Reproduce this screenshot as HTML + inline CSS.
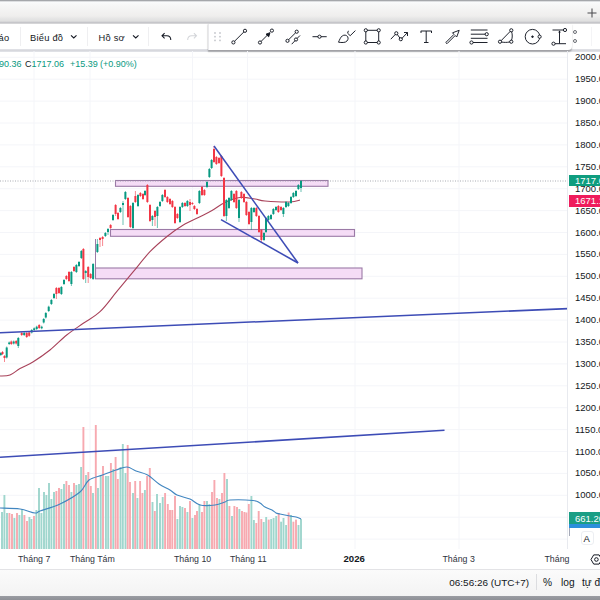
<!DOCTYPE html>
<html><head><meta charset="utf-8">
<style>
*{box-sizing:border-box}
html,body{margin:0;padding:0;width:600px;height:600px;overflow:hidden;background:#fff;font-family:"Liberation Sans",sans-serif;color:#131722}
.abs{position:absolute}
#top{left:0;top:0;width:600px;height:24px;background:linear-gradient(#8a8c90 0px,#c0c2c6 1px,#fafbfc 2px,#f7f7f7 5px,#efeeed 16px,#e4e4e4 19px,#e0e0e0 21px,#c6c6ca 22.5px,#dcdcde 24px)}
#plus{left:586px;top:6.5px;width:12px;height:12px}
#tb{left:0;top:24px;width:600px;height:28px;background:linear-gradient(#fff 0,#fff 25.5px,#dfe0e5 25.5px,#d3d4da 27px,#eceef2 28px)}
.tt{font-size:9.3px;top:32.6px;color:#131722;white-space:nowrap;letter-spacing:0.25px}
.sep{width:1px;background:#efeff1}
#ftb{left:208px;top:24px;width:364px;height:25.5px;background:#fff;border-radius:0 0 4px 0;border-left:1px solid #e9e9ec;box-shadow:0 1.5px 1.5px rgba(0,0,0,0.25), -1px 0 1px rgba(0,0,0,0.06)}
#chart{left:0;top:51px;width:568px;height:498px}
#axis{left:567px;top:51px;width:1px;height:518px;background:#e8eaef}
.pl{position:absolute;left:575px;font-size:9.5px;color:#131722;white-space:nowrap;line-height:12px}
.lg{top:59.3px;font-size:9px;white-space:nowrap;color:#089981}
#taxis{left:0;top:549px;width:600px;height:20px;background:#fff;border-top:0}
.tl{position:absolute;top:553px;font-size:8.8px;color:#2f333c;white-space:nowrap;line-height:12px}
#bb{left:0;top:569px;width:600px;height:27px;background:linear-gradient(#fbfbfb,#f3f3f3);border-top:1px solid #e3e3e6}
#bdark{left:0;top:595.8px;width:600px;height:5px;background:linear-gradient(#9a9ca2,#8b8d93)}
.bt{position:absolute;top:576px;font-size:10.2px;color:#131722;white-space:nowrap;line-height:14px}
</style></head><body>
<div id="top" class="abs"></div>
<svg class="abs" id="plus" viewBox="0 0 12 12"><path d="M6 1.5V10.5M1.5 6H10.5" stroke="#4a4a4f" stroke-width="1.05"/></svg>
<div id="tb" class="abs"></div>
<div class="abs tt" style="left:-1.5px">áo</div>
<div class="abs sep" style="left:20px;top:27px;height:19px"></div>
<div class="abs tt" style="left:30px">Biểu đồ</div>
<svg class="abs" style="left:68.5px;top:33px" width="9" height="7" viewBox="0 0 9 7"><path d="M2 2.4L4.75 5L7.5 2.4" fill="none" stroke="#131722" stroke-width="1.1"/></svg>
<div class="abs sep" style="left:87px;top:27px;height:19px"></div>
<div class="abs tt" style="left:98.5px">Hồ sơ</div>
<svg class="abs" style="left:130.5px;top:33px" width="9" height="7" viewBox="0 0 9 7"><path d="M2 2.4L4.75 5L7.5 2.4" fill="none" stroke="#131722" stroke-width="1.1"/></svg>
<div class="abs sep" style="left:148px;top:27px;height:19px"></div>
<svg class="abs" style="left:160px;top:30px" width="14" height="12" viewBox="0 0 14 12"><path d="M2.2 5.8H6.8C9.2 5.8 10.8 7.5 10.8 10M4.6 3.2L2 5.8L4.6 8.4" fill="none" stroke="#131722" stroke-width="1.05"/></svg>
<svg class="abs" style="left:184px;top:30px" width="14" height="12" viewBox="0 0 14 12"><path d="M12.3 5.8H7.7C5.3 5.8 3.7 7.5 3.7 10M9.9 3.2L12.5 5.8L9.9 8.4" fill="none" stroke="#d3d5d9" stroke-width="1.05"/></svg>
<div id="ftb" class="abs"></div>
<svg class="abs" style="left:208px;top:24px" width="364" height="26" viewBox="208 24 364 26" fill="none" stroke="#131722" stroke-width="0.95">
 <g fill="#c5c7cc" stroke="none"><circle cx="215" cy="33" r="0.9"/><circle cx="220" cy="33" r="0.9"/><circle cx="215" cy="36.7" r="0.9"/><circle cx="220" cy="36.7" r="0.9"/><circle cx="215" cy="40.4" r="0.9"/><circle cx="220" cy="40.4" r="0.9"/></g>
 <!-- line -->
 <path d="M234.4 41.4L244 31.8"/><circle cx="233.4" cy="42.4" r="1.6"/><circle cx="245" cy="30.8" r="1.6"/>
 <!-- arrow -->
 <path d="M261 41.5L268 34.5"/><circle cx="260" cy="42.5" r="1.6"/><circle cx="271.9" cy="30.6" r="1.6"/><path d="M266 34.2L270 32.7L268.7 36.8Z" fill="#131722"/>
 <!-- parallel -->
 <path d="M288.5 39.8L295.7 32.7"/><circle cx="287.5" cy="40.8" r="1.6"/><circle cx="296.7" cy="31.7" r="1.6"/><path d="M291.7 44.2L295.1 40.6M297 38.5L300 35.5"/><circle cx="296" cy="39.5" r="1.6"/>
 <!-- horiz -->
 <path d="M312.5 36.7H318M321 36.7H326.7"/><circle cx="319.5" cy="36.7" r="1.6"/>
 <!-- brush -->
 <path d="M338.5 42.2C339.5 40 340.5 37.2 342.3 35.9C344 34.7 346.5 34.8 347.7 36.8C348.7 38.5 347.8 41 345.5 42C343.5 42.8 340.5 42.5 338.5 42.2Z"/><path d="M348.4 30.8L347.6 33.2L350.2 35.7L355.4 30.6"/>
 <!-- rect -->
 <path d="M367.2 30.3H377.3M378.7 31.7V41.1M377.3 42.5H367.2M365.8 41.1V31.7"/><circle cx="365.8" cy="30.3" r="1.6"/><circle cx="378.7" cy="30.3" r="1.6"/><circle cx="365.8" cy="42.5" r="1.6"/><circle cx="378.7" cy="42.5" r="1.6"/>
 <!-- path -->
 <path d="M390.8 39.2L395.4 34.3M397.2 34.3L400 38.2M401.8 38.5L407.5 32.5M404 32.5H407.5V36"/><circle cx="396.3" cy="33.3" r="1.6"/><circle cx="400.8" cy="39.2" r="1.6"/>
 <!-- T -->
 <path d="M420.8 31H431.7M421 31V33M431.5 31V33M426.2 31V42.5M424 42.5H428.5"/>
 <!-- arrow outline -->
 <path d="M445.8 42.5L454 34.3L452.5 32.8L459.2 30.3L456.7 37L455.2 35.5L447 43.7Z"/>
 <!-- fib -->
 <path d="M470.8 30H487.5M470.8 34.2H485.2M470.8 38.3H487.5M473 42.5H487.5"/><circle cx="486.7" cy="34.2" r="1.6"/><circle cx="471.5" cy="42.5" r="1.6"/>
 <!-- pattern -->
 <path d="M501 40.8L510.4 31.2M511.6 31.7C512.5 34.5 512.5 37.5 511.5 40.3M510 41.9C507 42.6 503.5 42.5 501.4 42"/><circle cx="500" cy="41.7" r="1.6"/><circle cx="511.3" cy="30.3" r="1.6"/><circle cx="511.3" cy="41.7" r="1.6"/>
 <!-- circle -->
 <circle cx="532.5" cy="36.7" r="7.3"/><circle cx="532.5" cy="36.7" r="0.8" fill="#131722"/><circle cx="539.6" cy="36.7" r="1.6" fill="#fff"/>
 <!-- ruler -->
 <path d="M552.5 30H563.7M559.5 31V43.5M555 43.7H566"/><circle cx="565" cy="30" r="1.6"/><circle cx="553.5" cy="43.7" r="1.6"/><path d="M558.2 32.5L559.5 30.5L560.8 32.5Z" fill="#131722" stroke="none"/>
</svg>
<svg class="abs" style="left:572px;top:24px" width="10" height="26" viewBox="572 24 10 26" fill="none" stroke="#3a3d45" stroke-width="0.75"><circle cx="575" cy="32" r="1.5"/><circle cx="575" cy="41" r="1.5"/></svg>
<div class="abs sep" style="left:591px;top:27px;height:19px;background:#f4f4f6"></div>

<svg id="chart" class="abs" width="568" height="498" viewBox="0 51 568 498">
<line x1="0" y1="57.3" x2="568" y2="57.3" stroke="#f4f5f9" stroke-width="1"/>
<line x1="0" y1="79.2" x2="568" y2="79.2" stroke="#f4f5f9" stroke-width="1"/>
<line x1="0" y1="101.1" x2="568" y2="101.1" stroke="#f4f5f9" stroke-width="1"/>
<line x1="0" y1="123.0" x2="568" y2="123.0" stroke="#f4f5f9" stroke-width="1"/>
<line x1="0" y1="144.9" x2="568" y2="144.9" stroke="#f4f5f9" stroke-width="1"/>
<line x1="0" y1="166.8" x2="568" y2="166.8" stroke="#f4f5f9" stroke-width="1"/>
<line x1="0" y1="188.7" x2="568" y2="188.7" stroke="#f4f5f9" stroke-width="1"/>
<line x1="0" y1="210.6" x2="568" y2="210.6" stroke="#f4f5f9" stroke-width="1"/>
<line x1="0" y1="232.5" x2="568" y2="232.5" stroke="#f4f5f9" stroke-width="1"/>
<line x1="0" y1="254.4" x2="568" y2="254.4" stroke="#f4f5f9" stroke-width="1"/>
<line x1="0" y1="276.3" x2="568" y2="276.3" stroke="#f4f5f9" stroke-width="1"/>
<line x1="0" y1="298.2" x2="568" y2="298.2" stroke="#f4f5f9" stroke-width="1"/>
<line x1="0" y1="320.1" x2="568" y2="320.1" stroke="#f4f5f9" stroke-width="1"/>
<line x1="0" y1="342.0" x2="568" y2="342.0" stroke="#f4f5f9" stroke-width="1"/>
<line x1="0" y1="363.9" x2="568" y2="363.9" stroke="#f4f5f9" stroke-width="1"/>
<line x1="0" y1="385.8" x2="568" y2="385.8" stroke="#f4f5f9" stroke-width="1"/>
<line x1="0" y1="407.7" x2="568" y2="407.7" stroke="#f4f5f9" stroke-width="1"/>
<line x1="0" y1="429.6" x2="568" y2="429.6" stroke="#f4f5f9" stroke-width="1"/>
<line x1="0" y1="451.5" x2="568" y2="451.5" stroke="#f4f5f9" stroke-width="1"/>
<line x1="0" y1="473.4" x2="568" y2="473.4" stroke="#f4f5f9" stroke-width="1"/>
<line x1="0" y1="495.3" x2="568" y2="495.3" stroke="#f4f5f9" stroke-width="1"/>
<line x1="0" y1="517.2" x2="568" y2="517.2" stroke="#f4f5f9" stroke-width="1"/>
<line x1="0" y1="539.1" x2="568" y2="539.1" stroke="#f4f5f9" stroke-width="1"/>
<line x1="34" y1="51" x2="34" y2="549" stroke="#f4f5f9" stroke-width="1"/>
<line x1="90" y1="51" x2="90" y2="549" stroke="#f4f5f9" stroke-width="1"/>
<line x1="192.5" y1="51" x2="192.5" y2="549" stroke="#f4f5f9" stroke-width="1"/>
<line x1="247.5" y1="51" x2="247.5" y2="549" stroke="#f4f5f9" stroke-width="1"/>
<line x1="355" y1="51" x2="355" y2="549" stroke="#f4f5f9" stroke-width="1"/>
<line x1="459" y1="51" x2="459" y2="549" stroke="#f4f5f9" stroke-width="1"/>
<rect x="1.05" y="512" width="1.9" height="37" fill="#9fd6cd"/>
<rect x="3.45" y="495" width="1.9" height="54" fill="#9fd6cd"/>
<rect x="6.05" y="513" width="1.9" height="36" fill="#9fd6cd"/>
<rect x="8.45" y="513" width="1.9" height="36" fill="#f7a9b0"/>
<rect x="11.05" y="514" width="1.9" height="35" fill="#f7a9b0"/>
<rect x="13.45" y="518" width="1.9" height="31" fill="#9fd6cd"/>
<rect x="16.05" y="513" width="1.9" height="36" fill="#f7a9b0"/>
<rect x="18.45" y="515" width="1.9" height="34" fill="#9fd6cd"/>
<rect x="21.05" y="509" width="1.9" height="40" fill="#9fd6cd"/>
<rect x="23.45" y="515" width="1.9" height="34" fill="#f7a9b0"/>
<rect x="26.05" y="521" width="1.9" height="28" fill="#f7a9b0"/>
<rect x="28.45" y="517" width="1.9" height="32" fill="#9fd6cd"/>
<rect x="30.45" y="519" width="1.9" height="30" fill="#9fd6cd"/>
<rect x="33.05" y="516" width="1.9" height="33" fill="#f7a9b0"/>
<rect x="35.45" y="510" width="1.9" height="39" fill="#9fd6cd"/>
<rect x="38.05" y="488" width="1.9" height="61" fill="#9fd6cd"/>
<rect x="40.45" y="513" width="1.9" height="36" fill="#9fd6cd"/>
<rect x="43.05" y="492" width="1.9" height="57" fill="#9fd6cd"/>
<rect x="45.45" y="495" width="1.9" height="54" fill="#9fd6cd"/>
<rect x="48.05" y="483" width="1.9" height="66" fill="#9fd6cd"/>
<rect x="50.45" y="499" width="1.9" height="50" fill="#9fd6cd"/>
<rect x="53.05" y="492" width="1.9" height="57" fill="#9fd6cd"/>
<rect x="55.45" y="491" width="1.9" height="58" fill="#f7a9b0"/>
<rect x="58.05" y="488" width="1.9" height="61" fill="#f7a9b0"/>
<rect x="60.45" y="489" width="1.9" height="60" fill="#9fd6cd"/>
<rect x="63.05" y="484" width="1.9" height="65" fill="#9fd6cd"/>
<rect x="65.45" y="481" width="1.9" height="68" fill="#f7a9b0"/>
<rect x="68.05" y="485" width="1.9" height="64" fill="#f7a9b0"/>
<rect x="70.45" y="492" width="1.9" height="57" fill="#9fd6cd"/>
<rect x="73.05" y="483" width="1.9" height="66" fill="#f7a9b0"/>
<rect x="75.45" y="485" width="1.9" height="64" fill="#9fd6cd"/>
<rect x="78.05" y="484" width="1.9" height="65" fill="#9fd6cd"/>
<rect x="80.15" y="467" width="1.9" height="82" fill="#9fd6cd"/>
<rect x="82.45" y="427" width="1.9" height="122" fill="#f7a9b0"/>
<rect x="85.05" y="475" width="1.9" height="74" fill="#9fd6cd"/>
<rect x="87.35" y="472" width="1.9" height="77" fill="#f7a9b0"/>
<rect x="89.85" y="486" width="1.9" height="63" fill="#f7a9b0"/>
<rect x="92.05" y="493" width="1.9" height="56" fill="#9fd6cd"/>
<rect x="94.85" y="425" width="1.9" height="124" fill="#f7a9b0"/>
<rect x="97.05" y="488" width="1.9" height="61" fill="#9fd6cd"/>
<rect x="99.75" y="475" width="1.9" height="74" fill="#9fd6cd"/>
<rect x="102.05" y="466" width="1.9" height="83" fill="#f7a9b0"/>
<rect x="104.95" y="476" width="1.9" height="73" fill="#9fd6cd"/>
<rect x="107.25" y="476" width="1.9" height="73" fill="#9fd6cd"/>
<rect x="109.95" y="463" width="1.9" height="86" fill="#f7a9b0"/>
<rect x="112.35" y="469" width="1.9" height="80" fill="#9fd6cd"/>
<rect x="114.65" y="457" width="1.9" height="92" fill="#f7a9b0"/>
<rect x="116.85" y="479" width="1.9" height="70" fill="#f7a9b0"/>
<rect x="119.55" y="467" width="1.9" height="82" fill="#9fd6cd"/>
<rect x="121.85" y="444" width="1.9" height="105" fill="#9fd6cd"/>
<rect x="124.55" y="473" width="1.9" height="76" fill="#9fd6cd"/>
<rect x="126.75" y="445" width="1.9" height="104" fill="#f7a9b0"/>
<rect x="129.05" y="482" width="1.9" height="67" fill="#f7a9b0"/>
<rect x="132.05" y="493" width="1.9" height="56" fill="#9fd6cd"/>
<rect x="134.25" y="481" width="1.9" height="68" fill="#f7a9b0"/>
<rect x="136.45" y="498" width="1.9" height="51" fill="#9fd6cd"/>
<rect x="139.15" y="481" width="1.9" height="68" fill="#f7a9b0"/>
<rect x="141.45" y="493" width="1.9" height="56" fill="#f7a9b0"/>
<rect x="143.95" y="490" width="1.9" height="59" fill="#9fd6cd"/>
<rect x="146.15" y="476" width="1.9" height="73" fill="#f7a9b0"/>
<rect x="148.85" y="468" width="1.9" height="81" fill="#f7a9b0"/>
<rect x="151.55" y="502" width="1.9" height="47" fill="#9fd6cd"/>
<rect x="153.85" y="511" width="1.9" height="38" fill="#f7a9b0"/>
<rect x="156.05" y="494" width="1.9" height="55" fill="#9fd6cd"/>
<rect x="159.05" y="503" width="1.9" height="46" fill="#9fd6cd"/>
<rect x="161.75" y="497" width="1.9" height="52" fill="#9fd6cd"/>
<rect x="164.15" y="493" width="1.9" height="56" fill="#f7a9b0"/>
<rect x="166.85" y="504" width="1.9" height="45" fill="#f7a9b0"/>
<rect x="169.05" y="510" width="1.9" height="39" fill="#f7a9b0"/>
<rect x="171.35" y="510" width="1.9" height="39" fill="#f7a9b0"/>
<rect x="174.05" y="496" width="1.9" height="53" fill="#f7a9b0"/>
<rect x="176.45" y="519" width="1.9" height="30" fill="#9fd6cd"/>
<rect x="179.05" y="506" width="1.9" height="43" fill="#9fd6cd"/>
<rect x="181.45" y="507" width="1.9" height="42" fill="#9fd6cd"/>
<rect x="184.05" y="508" width="1.9" height="41" fill="#f7a9b0"/>
<rect x="186.45" y="512" width="1.9" height="37" fill="#9fd6cd"/>
<rect x="189.05" y="501" width="1.9" height="48" fill="#f7a9b0"/>
<rect x="191.45" y="518" width="1.9" height="31" fill="#9fd6cd"/>
<rect x="194.05" y="515" width="1.9" height="34" fill="#f7a9b0"/>
<rect x="196.05" y="511" width="1.9" height="38" fill="#f7a9b0"/>
<rect x="198.45" y="504" width="1.9" height="45" fill="#9fd6cd"/>
<rect x="201.05" y="512" width="1.9" height="37" fill="#f7a9b0"/>
<rect x="203.45" y="501" width="1.9" height="48" fill="#f7a9b0"/>
<rect x="206.05" y="501" width="1.9" height="48" fill="#9fd6cd"/>
<rect x="208.45" y="504" width="1.9" height="45" fill="#9fd6cd"/>
<rect x="211.05" y="492" width="1.9" height="57" fill="#f7a9b0"/>
<rect x="213.45" y="480" width="1.9" height="69" fill="#f7a9b0"/>
<rect x="216.05" y="498" width="1.9" height="51" fill="#f7a9b0"/>
<rect x="218.45" y="499" width="1.9" height="50" fill="#9fd6cd"/>
<rect x="221.05" y="493" width="1.9" height="56" fill="#f7a9b0"/>
<rect x="223.45" y="473" width="1.9" height="76" fill="#f7a9b0"/>
<rect x="226.05" y="479" width="1.9" height="70" fill="#9fd6cd"/>
<rect x="228.45" y="506" width="1.9" height="43" fill="#f7a9b0"/>
<rect x="231.05" y="516" width="1.9" height="33" fill="#9fd6cd"/>
<rect x="233.45" y="506" width="1.9" height="43" fill="#f7a9b0"/>
<rect x="236.05" y="507" width="1.9" height="42" fill="#f7a9b0"/>
<rect x="238.45" y="509" width="1.9" height="40" fill="#9fd6cd"/>
<rect x="241.05" y="511" width="1.9" height="38" fill="#f7a9b0"/>
<rect x="243.45" y="512" width="1.9" height="37" fill="#f7a9b0"/>
<rect x="245.45" y="512.5" width="1.9" height="36.5" fill="#f7a9b0"/>
<rect x="247.85" y="504" width="1.9" height="45" fill="#f7a9b0"/>
<rect x="250.45" y="496" width="1.9" height="53" fill="#9fd6cd"/>
<rect x="252.95" y="520" width="1.9" height="29" fill="#9fd6cd"/>
<rect x="255.35" y="523" width="1.9" height="26" fill="#f7a9b0"/>
<rect x="257.75" y="511" width="1.9" height="38" fill="#f7a9b0"/>
<rect x="260.35" y="519" width="1.9" height="30" fill="#f7a9b0"/>
<rect x="262.75" y="522" width="1.9" height="27" fill="#9fd6cd"/>
<rect x="265.25" y="517" width="1.9" height="32" fill="#9fd6cd"/>
<rect x="267.75" y="519.6" width="1.9" height="29.399999999999977" fill="#f7a9b0"/>
<rect x="270.25" y="519" width="1.9" height="30" fill="#9fd6cd"/>
<rect x="272.65" y="518" width="1.9" height="31" fill="#9fd6cd"/>
<rect x="275.25" y="516" width="1.9" height="33" fill="#9fd6cd"/>
<rect x="277.75" y="513" width="1.9" height="36" fill="#f7a9b0"/>
<rect x="280.15" y="521.7" width="1.9" height="27.299999999999955" fill="#9fd6cd"/>
<rect x="282.55" y="518" width="1.9" height="31" fill="#9fd6cd"/>
<rect x="285.15" y="525" width="1.9" height="24" fill="#9fd6cd"/>
<rect x="287.65" y="512.5" width="1.9" height="36.5" fill="#f7a9b0"/>
<rect x="290.05" y="515" width="1.9" height="34" fill="#9fd6cd"/>
<rect x="292.45" y="521.7" width="1.9" height="27.299999999999955" fill="#f7a9b0"/>
<rect x="295.05" y="519.6" width="1.9" height="29.399999999999977" fill="#f7a9b0"/>
<rect x="297.55" y="525" width="1.9" height="24" fill="#9fd6cd"/>
<rect x="300.05" y="519" width="1.9" height="30" fill="#9fd6cd"/>
<path fill="none" stroke="#4186c0" stroke-width="1.1" d="M0,508 C3.33,508.17 14.17,508.17 20,509 C25.83,509.83 31.67,512.67 35,513 C38.33,513.33 35.83,512.50 40,511 C44.17,509.50 53.33,507.17 60,504 C66.67,500.83 75.17,496.00 80,492 C84.83,488.00 85.25,482.83 89,480 C92.75,477.17 98.00,476.67 102.5,475 C107.00,473.33 111.92,471.33 116,470 C120.08,468.67 123.67,466.83 127,467 C130.33,467.17 132.57,469.67 136,471 C139.43,472.33 143.77,472.83 147.6,475 C151.43,477.17 155.27,481.50 159,484 C162.73,486.50 167.00,488.17 170,490 C173.00,491.83 173.67,493.50 177,495 C180.33,496.50 186.17,497.33 190,499 C193.83,500.67 195.83,504.00 200,505 C204.17,506.00 210.83,505.50 215,505 C219.17,504.50 222.50,502.83 225,502 C227.50,501.17 225.33,500.25 230,500 C234.67,499.75 248.00,500.00 253,500.5 C258.00,501.00 258.00,501.92 260,503 C262.00,504.08 263.00,505.83 265,507 C267.00,508.17 270.17,509.00 272,510 C273.83,511.00 274.67,512.33 276,513 C277.33,513.67 277.67,513.50 280,514 C282.33,514.50 287.33,515.50 290,516 C292.67,516.50 294.17,516.50 296,517 C297.83,517.50 300.17,518.67 301,519"/>
<rect x="115.5" y="180.5" width="212.5" height="5.8" fill="#f5dcf6" stroke="#9b7aa6" stroke-width="1.1"/>
<rect x="110.5" y="229.5" width="244" height="6.8" fill="#f5dcf6" stroke="#9b7aa6" stroke-width="1.1"/>
<rect x="95.5" y="268" width="266.5" height="10.8" fill="#f5dcf6" stroke="#9b7aa6" stroke-width="1.1"/>
<line x1="0" y1="181" x2="568" y2="181" stroke="#9598a1" stroke-width="1" stroke-dasharray="1 1.5" opacity="0.8"/>
<path fill="none" stroke="#a8425a" stroke-width="1.1" d="M0,376 C1.67,375.83 6.67,376.25 10,375 C13.33,373.75 16.12,370.72 20,368.5 C23.88,366.28 28.30,364.78 33.3,361.7 C38.30,358.62 44.43,354.45 50,350 C55.57,345.55 61.15,339.45 66.7,335 C72.25,330.55 77.75,327.18 83.3,323.3 C88.85,319.42 94.43,316.97 100,311.7 C105.57,306.43 111.15,298.37 116.7,291.7 C122.25,285.03 127.75,278.37 133.3,271.7 C138.85,265.03 144.43,257.53 150,251.7 C155.57,245.87 161.15,241.15 166.7,236.7 C172.25,232.25 177.75,228.33 183.3,225 C188.85,221.67 195.22,219.12 200,216.7 C204.78,214.28 207.83,212.87 212,210.5 C216.17,208.13 220.33,204.67 225,202.5 C229.67,200.33 235.00,198.08 240,197.5 C245.00,196.92 250.83,198.42 255,199 C259.17,199.58 259.17,200.50 265,201 C270.83,201.50 284.17,202.17 290,202 C295.83,201.83 298.33,200.33 300,200"/>
<line x1="0.80" y1="352" x2="0.80" y2="356" stroke="#089981" stroke-width="0.6"/>
<rect x="-0.20" y="353" width="2" height="2" fill="#089981"/>
<line x1="2.50" y1="351" x2="2.50" y2="355" stroke="#f23645" stroke-width="0.6"/>
<rect x="1.50" y="352" width="2" height="2" fill="#f23645"/>
<line x1="4.50" y1="355" x2="4.50" y2="362" stroke="#f23645" stroke-width="0.6"/>
<rect x="3.50" y="356" width="2" height="2" fill="#f23645"/>
<line x1="6.70" y1="346.5" x2="6.70" y2="358.5" stroke="#089981" stroke-width="0.6"/>
<rect x="5.70" y="347.5" width="2" height="10.0" fill="#089981"/>
<line x1="9.20" y1="341.5" x2="9.20" y2="345" stroke="#089981" stroke-width="0.6"/>
<rect x="8.20" y="342.5" width="2" height="1.5" fill="#089981"/>
<line x1="11.30" y1="340.5" x2="11.30" y2="345" stroke="#f23645" stroke-width="0.6"/>
<rect x="10.30" y="341.5" width="2" height="2.5" fill="#f23645"/>
<line x1="13.70" y1="340.5" x2="13.70" y2="344.5" stroke="#089981" stroke-width="0.6"/>
<rect x="12.70" y="341.5" width="2" height="2.0" fill="#089981"/>
<line x1="16.20" y1="340" x2="16.20" y2="344.5" stroke="#f23645" stroke-width="0.6"/>
<rect x="15.20" y="341" width="2" height="2.5" fill="#f23645"/>
<line x1="18.30" y1="337" x2="18.30" y2="348" stroke="#089981" stroke-width="0.6"/>
<rect x="17.30" y="338" width="2" height="8" fill="#089981"/>
<line x1="21.70" y1="332" x2="21.70" y2="336" stroke="#f23645" stroke-width="0.6"/>
<rect x="20.70" y="333" width="2" height="2" fill="#f23645"/>
<line x1="24.20" y1="332" x2="24.20" y2="336" stroke="#089981" stroke-width="0.6"/>
<rect x="23.20" y="333" width="2" height="2" fill="#089981"/>
<line x1="26.70" y1="332" x2="26.70" y2="338" stroke="#f23645" stroke-width="0.6"/>
<rect x="25.70" y="333" width="2" height="4" fill="#f23645"/>
<line x1="29.20" y1="331.5" x2="29.20" y2="336.8" stroke="#f23645" stroke-width="0.6"/>
<rect x="28.20" y="332.5" width="2" height="3.3000000000000114" fill="#f23645"/>
<line x1="31.70" y1="329" x2="31.70" y2="333.5" stroke="#089981" stroke-width="0.6"/>
<rect x="30.70" y="330" width="2" height="2.5" fill="#089981"/>
<line x1="34.20" y1="327.3" x2="34.20" y2="331" stroke="#089981" stroke-width="0.6"/>
<rect x="33.20" y="328.3" width="2" height="1.6999999999999886" fill="#089981"/>
<line x1="36.70" y1="325.7" x2="36.70" y2="330" stroke="#089981" stroke-width="0.6"/>
<rect x="35.70" y="326.7" width="2" height="2.3000000000000114" fill="#089981"/>
<line x1="39.20" y1="324" x2="39.20" y2="329" stroke="#f23645" stroke-width="0.6"/>
<rect x="38.20" y="325" width="2" height="3" fill="#f23645"/>
<line x1="41.70" y1="325.7" x2="41.70" y2="329.3" stroke="#089981" stroke-width="0.6"/>
<rect x="40.70" y="326.7" width="2" height="1.6000000000000227" fill="#089981"/>
<line x1="43.70" y1="318" x2="43.70" y2="323.5" stroke="#089981" stroke-width="0.6"/>
<rect x="42.70" y="319" width="2" height="3.5" fill="#089981"/>
<line x1="45.80" y1="312" x2="45.80" y2="318.5" stroke="#089981" stroke-width="0.6"/>
<rect x="44.80" y="313" width="2" height="4.5" fill="#089981"/>
<line x1="48.70" y1="305.7" x2="48.70" y2="312" stroke="#089981" stroke-width="0.6"/>
<rect x="47.70" y="306.7" width="2" height="4.300000000000011" fill="#089981"/>
<line x1="51.40" y1="299" x2="51.40" y2="305" stroke="#089981" stroke-width="0.6"/>
<rect x="50.40" y="300" width="2" height="4" fill="#089981"/>
<line x1="54.00" y1="293" x2="54.00" y2="299" stroke="#089981" stroke-width="0.6"/>
<rect x="53.00" y="294" width="2" height="4" fill="#089981"/>
<line x1="56.40" y1="287" x2="56.40" y2="299" stroke="#f23645" stroke-width="0.6"/>
<rect x="55.40" y="288" width="2" height="6" fill="#f23645"/>
<line x1="59.00" y1="287" x2="59.00" y2="294" stroke="#f23645" stroke-width="0.6"/>
<rect x="58.00" y="288" width="2" height="5" fill="#f23645"/>
<line x1="61.40" y1="286" x2="61.40" y2="295" stroke="#089981" stroke-width="0.6"/>
<rect x="60.40" y="287" width="2" height="7" fill="#089981"/>
<line x1="64.00" y1="279" x2="64.00" y2="285" stroke="#089981" stroke-width="0.6"/>
<rect x="63.00" y="280" width="2" height="4" fill="#089981"/>
<line x1="66.40" y1="275" x2="66.40" y2="280" stroke="#f23645" stroke-width="0.6"/>
<rect x="65.40" y="276" width="2" height="3" fill="#f23645"/>
<line x1="69.00" y1="271" x2="69.00" y2="282" stroke="#f23645" stroke-width="0.6"/>
<rect x="68.00" y="272" width="2" height="9" fill="#f23645"/>
<line x1="71.40" y1="271" x2="71.40" y2="286" stroke="#089981" stroke-width="0.6"/>
<rect x="70.40" y="272" width="2" height="12" fill="#089981"/>
<line x1="74.00" y1="266" x2="74.00" y2="272" stroke="#f23645" stroke-width="0.6"/>
<rect x="73.00" y="267" width="2" height="4" fill="#f23645"/>
<line x1="76.40" y1="264" x2="76.40" y2="273" stroke="#089981" stroke-width="0.6"/>
<rect x="75.40" y="265" width="2" height="7" fill="#089981"/>
<line x1="79.00" y1="261" x2="79.00" y2="267" stroke="#089981" stroke-width="0.6"/>
<rect x="78.00" y="262" width="2" height="4" fill="#089981"/>
<line x1="81.40" y1="250" x2="81.40" y2="259" stroke="#089981" stroke-width="0.6"/>
<rect x="80.40" y="251" width="2" height="7" fill="#089981"/>
<line x1="83.40" y1="248" x2="83.40" y2="280" stroke="#f23645" stroke-width="0.6"/>
<rect x="82.40" y="249" width="2" height="30" fill="#f23645"/>
<line x1="85.70" y1="270" x2="85.70" y2="283" stroke="#089981" stroke-width="0.6"/>
<rect x="84.70" y="271" width="2" height="2" fill="#089981"/>
<line x1="88.20" y1="266" x2="88.20" y2="283" stroke="#f23645" stroke-width="0.6"/>
<rect x="87.20" y="267" width="2" height="10" fill="#f23645"/>
<line x1="90.60" y1="273" x2="90.60" y2="279" stroke="#f23645" stroke-width="0.6"/>
<rect x="89.60" y="274" width="2" height="4" fill="#f23645"/>
<line x1="93.10" y1="263" x2="93.10" y2="280" stroke="#089981" stroke-width="0.6"/>
<rect x="92.10" y="264" width="2" height="15" fill="#089981"/>
<line x1="97.40" y1="239" x2="97.40" y2="253" stroke="#089981" stroke-width="0.6"/>
<rect x="96.40" y="244" width="2" height="8" fill="#089981"/>
<line x1="100.00" y1="237" x2="100.00" y2="247" stroke="#f23645" stroke-width="0.6"/>
<rect x="99.00" y="238" width="2" height="2" fill="#f23645"/>
<line x1="102.60" y1="236" x2="102.60" y2="246" stroke="#f23645" stroke-width="0.6"/>
<rect x="101.60" y="237" width="2" height="2" fill="#f23645"/>
<line x1="105.40" y1="232" x2="105.40" y2="237" stroke="#089981" stroke-width="0.6"/>
<rect x="104.40" y="233" width="2" height="3" fill="#089981"/>
<line x1="108.00" y1="228" x2="108.00" y2="235" stroke="#089981" stroke-width="0.6"/>
<rect x="107.00" y="229" width="2" height="3" fill="#089981"/>
<line x1="110.60" y1="224" x2="110.60" y2="229" stroke="#f23645" stroke-width="0.6"/>
<rect x="109.60" y="225" width="2" height="3" fill="#f23645"/>
<line x1="113.00" y1="214" x2="113.00" y2="221" stroke="#089981" stroke-width="0.6"/>
<rect x="112.00" y="215" width="2" height="5" fill="#089981"/>
<line x1="115.60" y1="204" x2="115.60" y2="216" stroke="#f23645" stroke-width="0.6"/>
<rect x="114.60" y="205" width="2" height="9" fill="#f23645"/>
<line x1="118.00" y1="212" x2="118.00" y2="220" stroke="#f23645" stroke-width="0.6"/>
<rect x="117.00" y="213" width="2" height="6" fill="#f23645"/>
<line x1="120.40" y1="207" x2="120.40" y2="213" stroke="#089981" stroke-width="0.6"/>
<rect x="119.40" y="208" width="2" height="4" fill="#089981"/>
<line x1="123.00" y1="201" x2="123.00" y2="225" stroke="#089981" stroke-width="0.6"/>
<rect x="122.00" y="203" width="2" height="2" fill="#089981"/>
<line x1="125.40" y1="191" x2="125.40" y2="200" stroke="#089981" stroke-width="0.6"/>
<rect x="124.40" y="192" width="2" height="7" fill="#089981"/>
<line x1="128.00" y1="197" x2="128.00" y2="218" stroke="#f23645" stroke-width="0.6"/>
<rect x="127.00" y="198" width="2" height="19" fill="#f23645"/>
<line x1="130.40" y1="205" x2="130.40" y2="228" stroke="#f23645" stroke-width="0.6"/>
<rect x="129.40" y="206" width="2" height="21" fill="#f23645"/>
<line x1="133.00" y1="202" x2="133.00" y2="229" stroke="#089981" stroke-width="0.6"/>
<rect x="132.00" y="203" width="2" height="25" fill="#089981"/>
<line x1="135.40" y1="191" x2="135.40" y2="203" stroke="#f23645" stroke-width="0.6"/>
<rect x="134.40" y="196" width="2" height="6" fill="#f23645"/>
<line x1="138.00" y1="194" x2="138.00" y2="207" stroke="#089981" stroke-width="0.6"/>
<rect x="137.00" y="195" width="2" height="11" fill="#089981"/>
<line x1="140.40" y1="192" x2="140.40" y2="197" stroke="#f23645" stroke-width="0.6"/>
<rect x="139.40" y="193" width="2" height="3" fill="#f23645"/>
<line x1="143.00" y1="193" x2="143.00" y2="200" stroke="#f23645" stroke-width="0.6"/>
<rect x="142.00" y="194" width="2" height="5" fill="#f23645"/>
<line x1="145.00" y1="190" x2="145.00" y2="196" stroke="#089981" stroke-width="0.6"/>
<rect x="144.00" y="191" width="2" height="4" fill="#089981"/>
<line x1="147.40" y1="184" x2="147.40" y2="203" stroke="#f23645" stroke-width="0.6"/>
<rect x="146.40" y="185" width="2" height="17" fill="#f23645"/>
<line x1="150.00" y1="204" x2="150.00" y2="222" stroke="#f23645" stroke-width="0.6"/>
<rect x="149.00" y="205" width="2" height="16" fill="#f23645"/>
<line x1="152.40" y1="215" x2="152.40" y2="226" stroke="#089981" stroke-width="0.6"/>
<rect x="151.40" y="216" width="2" height="4" fill="#089981"/>
<line x1="155.00" y1="210" x2="155.00" y2="226" stroke="#f23645" stroke-width="0.6"/>
<rect x="154.00" y="211" width="2" height="6" fill="#f23645"/>
<line x1="157.40" y1="206" x2="157.40" y2="228" stroke="#089981" stroke-width="0.6"/>
<rect x="156.40" y="207" width="2" height="9" fill="#089981"/>
<line x1="160.00" y1="201" x2="160.00" y2="207" stroke="#089981" stroke-width="0.6"/>
<rect x="159.00" y="202" width="2" height="4" fill="#089981"/>
<line x1="162.40" y1="194" x2="162.40" y2="202" stroke="#089981" stroke-width="0.6"/>
<rect x="161.40" y="195" width="2" height="6" fill="#089981"/>
<line x1="165.00" y1="189" x2="165.00" y2="198" stroke="#f23645" stroke-width="0.6"/>
<rect x="164.00" y="190" width="2" height="7" fill="#f23645"/>
<line x1="167.40" y1="196" x2="167.40" y2="203" stroke="#f23645" stroke-width="0.6"/>
<rect x="166.40" y="197" width="2" height="5" fill="#f23645"/>
<line x1="170.00" y1="198" x2="170.00" y2="205" stroke="#f23645" stroke-width="0.6"/>
<rect x="169.00" y="199" width="2" height="5" fill="#f23645"/>
<line x1="172.40" y1="200" x2="172.40" y2="208" stroke="#f23645" stroke-width="0.6"/>
<rect x="171.40" y="201" width="2" height="6" fill="#f23645"/>
<line x1="175.00" y1="206" x2="175.00" y2="224" stroke="#f23645" stroke-width="0.6"/>
<rect x="174.00" y="207" width="2" height="16" fill="#f23645"/>
<line x1="177.40" y1="213" x2="177.40" y2="219" stroke="#f23645" stroke-width="0.6"/>
<rect x="176.40" y="214" width="2" height="4" fill="#f23645"/>
<line x1="180.00" y1="206" x2="180.00" y2="223" stroke="#089981" stroke-width="0.6"/>
<rect x="179.00" y="207" width="2" height="15" fill="#089981"/>
<line x1="182.40" y1="202" x2="182.40" y2="208" stroke="#089981" stroke-width="0.6"/>
<rect x="181.40" y="203" width="2" height="4" fill="#089981"/>
<line x1="185.00" y1="202" x2="185.00" y2="207" stroke="#f23645" stroke-width="0.6"/>
<rect x="184.00" y="203" width="2" height="3" fill="#f23645"/>
<line x1="187.40" y1="200" x2="187.40" y2="207" stroke="#089981" stroke-width="0.6"/>
<rect x="186.40" y="201" width="2" height="5" fill="#089981"/>
<line x1="190.00" y1="199" x2="190.00" y2="211" stroke="#f23645" stroke-width="0.6"/>
<rect x="189.00" y="202" width="2" height="3" fill="#f23645"/>
<line x1="192.40" y1="202" x2="192.40" y2="205" stroke="#f23645" stroke-width="0.6"/>
<rect x="191.40" y="203" width="2" height="1" fill="#f23645"/>
<line x1="194.40" y1="205" x2="194.40" y2="210" stroke="#f23645" stroke-width="0.6"/>
<rect x="193.40" y="206" width="2" height="3" fill="#f23645"/>
<line x1="197.00" y1="208" x2="197.00" y2="215" stroke="#f23645" stroke-width="0.6"/>
<rect x="196.00" y="209" width="2" height="5" fill="#f23645"/>
<line x1="199.40" y1="190" x2="199.40" y2="204" stroke="#089981" stroke-width="0.6"/>
<rect x="198.40" y="191" width="2" height="12" fill="#089981"/>
<line x1="202.00" y1="186" x2="202.00" y2="196" stroke="#f23645" stroke-width="0.6"/>
<rect x="201.00" y="187" width="2" height="8" fill="#f23645"/>
<line x1="204.40" y1="189" x2="204.40" y2="196" stroke="#f23645" stroke-width="0.6"/>
<rect x="203.40" y="190" width="2" height="5" fill="#f23645"/>
<line x1="207.00" y1="181" x2="207.00" y2="188" stroke="#089981" stroke-width="0.6"/>
<rect x="206.00" y="182" width="2" height="5" fill="#089981"/>
<line x1="209.40" y1="168" x2="209.40" y2="178" stroke="#089981" stroke-width="0.6"/>
<rect x="208.40" y="169" width="2" height="8" fill="#089981"/>
<line x1="211.60" y1="159" x2="211.60" y2="169" stroke="#089981" stroke-width="0.6"/>
<rect x="210.60" y="160" width="2" height="8" fill="#089981"/>
<line x1="214.00" y1="146" x2="214.00" y2="163" stroke="#f23645" stroke-width="0.6"/>
<rect x="213.00" y="149" width="2" height="13" fill="#f23645"/>
<line x1="216.40" y1="156" x2="216.40" y2="165" stroke="#f23645" stroke-width="0.6"/>
<rect x="215.40" y="157" width="2" height="7" fill="#f23645"/>
<line x1="219.00" y1="157" x2="219.00" y2="164" stroke="#f23645" stroke-width="0.6"/>
<rect x="218.00" y="158" width="2" height="5" fill="#f23645"/>
<line x1="221.40" y1="155" x2="221.40" y2="177" stroke="#f23645" stroke-width="0.6"/>
<rect x="220.40" y="156" width="2" height="20" fill="#f23645"/>
<line x1="224.00" y1="177" x2="224.00" y2="217" stroke="#f23645" stroke-width="0.6"/>
<rect x="223.00" y="178" width="2" height="38" fill="#f23645"/>
<line x1="226.40" y1="199" x2="226.40" y2="221" stroke="#089981" stroke-width="0.6"/>
<rect x="225.40" y="200" width="2" height="16" fill="#089981"/>
<line x1="229.00" y1="197" x2="229.00" y2="209" stroke="#089981" stroke-width="0.6"/>
<rect x="228.00" y="198" width="2" height="10" fill="#089981"/>
<line x1="231.40" y1="190" x2="231.40" y2="201" stroke="#089981" stroke-width="0.6"/>
<rect x="230.40" y="191" width="2" height="9" fill="#089981"/>
<line x1="234.00" y1="193" x2="234.00" y2="203" stroke="#f23645" stroke-width="0.6"/>
<rect x="233.00" y="194" width="2" height="8" fill="#f23645"/>
<line x1="236.40" y1="190" x2="236.40" y2="209" stroke="#f23645" stroke-width="0.6"/>
<rect x="235.40" y="191" width="2" height="17" fill="#f23645"/>
<line x1="239.00" y1="199" x2="239.00" y2="222" stroke="#089981" stroke-width="0.6"/>
<rect x="238.00" y="200" width="2" height="18" fill="#089981"/>
<line x1="241.40" y1="191" x2="241.40" y2="199" stroke="#f23645" stroke-width="0.6"/>
<rect x="240.40" y="192" width="2" height="6" fill="#f23645"/>
<line x1="244.00" y1="193" x2="244.00" y2="203" stroke="#f23645" stroke-width="0.6"/>
<rect x="243.00" y="194" width="2" height="8" fill="#f23645"/>
<line x1="246.40" y1="201" x2="246.40" y2="216" stroke="#f23645" stroke-width="0.6"/>
<rect x="245.40" y="202" width="2" height="13" fill="#f23645"/>
<line x1="249.00" y1="211" x2="249.00" y2="225" stroke="#f23645" stroke-width="0.6"/>
<rect x="248.00" y="212" width="2" height="12" fill="#f23645"/>
<line x1="251.40" y1="207" x2="251.40" y2="230" stroke="#089981" stroke-width="0.6"/>
<rect x="250.40" y="208" width="2" height="14" fill="#089981"/>
<line x1="254.00" y1="207" x2="254.00" y2="213" stroke="#089981" stroke-width="0.6"/>
<rect x="253.00" y="208" width="2" height="4" fill="#089981"/>
<line x1="256.40" y1="207" x2="256.40" y2="217" stroke="#f23645" stroke-width="0.6"/>
<rect x="255.40" y="208" width="2" height="8" fill="#f23645"/>
<line x1="259.00" y1="215" x2="259.00" y2="233" stroke="#f23645" stroke-width="0.6"/>
<rect x="258.00" y="216" width="2" height="16" fill="#f23645"/>
<line x1="261.40" y1="229" x2="261.40" y2="242" stroke="#f23645" stroke-width="0.6"/>
<rect x="260.40" y="230" width="2" height="10" fill="#f23645"/>
<line x1="264.00" y1="232" x2="264.00" y2="241" stroke="#089981" stroke-width="0.6"/>
<rect x="263.00" y="233" width="2" height="7" fill="#089981"/>
<line x1="266.00" y1="217" x2="266.00" y2="233" stroke="#089981" stroke-width="0.6"/>
<rect x="265.00" y="218" width="2" height="14" fill="#089981"/>
<line x1="268.40" y1="215" x2="268.40" y2="221" stroke="#089981" stroke-width="0.6"/>
<rect x="267.40" y="216" width="2" height="4" fill="#089981"/>
<line x1="271.00" y1="214" x2="271.00" y2="220" stroke="#089981" stroke-width="0.6"/>
<rect x="270.00" y="215" width="2" height="4" fill="#089981"/>
<line x1="273.40" y1="208" x2="273.40" y2="215" stroke="#089981" stroke-width="0.6"/>
<rect x="272.40" y="209" width="2" height="5" fill="#089981"/>
<line x1="276.00" y1="206" x2="276.00" y2="211" stroke="#089981" stroke-width="0.6"/>
<rect x="275.00" y="207" width="2" height="3" fill="#089981"/>
<line x1="278.40" y1="205" x2="278.40" y2="213" stroke="#f23645" stroke-width="0.6"/>
<rect x="277.40" y="206" width="2" height="6" fill="#f23645"/>
<line x1="281.00" y1="206" x2="281.00" y2="211" stroke="#f23645" stroke-width="0.6"/>
<rect x="280.00" y="207" width="2" height="3" fill="#f23645"/>
<line x1="283.40" y1="207" x2="283.40" y2="217" stroke="#089981" stroke-width="0.6"/>
<rect x="282.40" y="208" width="2" height="6" fill="#089981"/>
<line x1="286.00" y1="201" x2="286.00" y2="208" stroke="#089981" stroke-width="0.6"/>
<rect x="285.00" y="202" width="2" height="5" fill="#089981"/>
<line x1="288.40" y1="202" x2="288.40" y2="207" stroke="#089981" stroke-width="0.6"/>
<rect x="287.40" y="203" width="2" height="3" fill="#089981"/>
<line x1="291.00" y1="196" x2="291.00" y2="204" stroke="#089981" stroke-width="0.6"/>
<rect x="290.00" y="197" width="2" height="6" fill="#089981"/>
<line x1="293.40" y1="192" x2="293.40" y2="198" stroke="#089981" stroke-width="0.6"/>
<rect x="292.40" y="193" width="2" height="4" fill="#089981"/>
<line x1="296.00" y1="190" x2="296.00" y2="197" stroke="#089981" stroke-width="0.6"/>
<rect x="295.00" y="191" width="2" height="5" fill="#089981"/>
<line x1="298.40" y1="184" x2="298.40" y2="190" stroke="#089981" stroke-width="0.6"/>
<rect x="297.40" y="185" width="2" height="4" fill="#089981"/>
<line x1="301.00" y1="180" x2="301.00" y2="192" stroke="#089981" stroke-width="0.6"/>
<rect x="300.00" y="181" width="2" height="7" fill="#089981"/>
<line x1="95.5" y1="239" x2="95.5" y2="279" stroke="#9b7aa6" stroke-width="1"/>
<line x1="0" y1="332.7" x2="568" y2="308.6" stroke="#3d4cb6" stroke-width="1.55"/>
<line x1="0" y1="457.3" x2="444.5" y2="430.3" stroke="#3d4cb6" stroke-width="1.55"/>
<line x1="214" y1="146" x2="298" y2="263" stroke="#3d4cb6" stroke-width="1.55"/>
<line x1="221" y1="219.6" x2="298" y2="263" stroke="#3d4cb6" stroke-width="1.55"/>
</svg>
<div class="abs lg" style="left:-1px">90.36</div><div class="abs lg" style="left:25px;color:#131722">C</div><div class="abs lg" style="left:31.5px">1717.06</div><div class="abs lg" style="left:70px">+15.39</div><div class="abs lg" style="left:100px">(+0.90%)</div>
<div id="axis" class="abs"></div>
<div class="pl" style="top:51.3px">2000.00</div>
<div class="pl" style="top:73.2px">1950.00</div>
<div class="pl" style="top:95.1px">1900.00</div>
<div class="pl" style="top:117.0px">1850.00</div>
<div class="pl" style="top:138.9px">1800.00</div>
<div class="pl" style="top:160.8px">1750.00</div>
<div class="pl" style="top:182.7px">1700.00</div>
<div class="pl" style="top:204.6px">1650.00</div>
<div class="pl" style="top:226.5px">1600.00</div>
<div class="pl" style="top:248.4px">1550.00</div>
<div class="pl" style="top:270.3px">1500.00</div>
<div class="pl" style="top:292.2px">1450.00</div>
<div class="pl" style="top:314.1px">1400.00</div>
<div class="pl" style="top:336.0px">1350.00</div>
<div class="pl" style="top:357.9px">1300.00</div>
<div class="pl" style="top:379.8px">1250.00</div>
<div class="pl" style="top:401.7px">1200.00</div>
<div class="pl" style="top:423.6px">1150.00</div>
<div class="pl" style="top:445.5px">1100.00</div>
<div class="pl" style="top:467.4px">1050.00</div>
<div class="pl" style="top:489.3px">1000.00</div>
<div class="abs" style="left:568.5px;top:175.3px;width:32px;height:11px;background:#0f9d7f"></div>
<div class="abs" style="left:575px;top:175px;font-size:9.5px;line-height:12px;color:#fff">1717.06</div>
<div class="abs" style="left:568.5px;top:195.2px;width:32px;height:11.6px;background:#ef1c5c"></div>
<div class="abs" style="left:575px;top:195.3px;font-size:9.5px;line-height:12px;color:#fff">1671.12</div>
<div class="abs" style="left:569px;top:512.3px;width:31px;height:12px;background:#1a9e85"></div>
<div class="abs" style="left:569px;top:524.2px;width:31px;height:3.6px;background:#2d8fdb"></div>
<div class="abs" style="left:575px;top:512.5px;font-size:9.5px;line-height:12px;color:#fff">661.20</div>
<div class="abs" style="left:569px;top:527.8px;width:1.2px;height:8px;background:#a5aab8"></div>
<div class="abs" style="left:580.5px;top:531px;width:13px;height:14px;border:1px solid #eceef2;border-radius:3px;background:#fff"></div>
<div class="abs" style="left:583.5px;top:532.5px;font-size:9.5px;line-height:12px;color:#131722">A</div>
<div id="taxis" class="abs"></div>
<div class="tl" style="left:18px">Tháng 7</div>
<div class="tl" style="left:70px">Tháng Tám</div>
<div class="tl" style="left:174px">Tháng 10</div>
<div class="tl" style="left:230px">Tháng 11</div>
<div class="tl" style="left:343.5px;font-weight:bold;font-size:9.6px;top:552.5px;color:#131722">2026</div>
<div class="tl" style="left:442.5px">Tháng 3</div>
<div class="tl" style="left:544.5px">Tháng</div>
<svg class="abs" style="left:588px;top:551px" width="12" height="17" viewBox="588 551 12 17"><path d="M591 559.5L593.7 554.9H599.1L601.8 559.5L599.1 564.1H593.7Z" fill="none" stroke="#131722" stroke-width="1" stroke-linejoin="round"/><circle cx="596.4" cy="559.5" r="1.8" fill="none" stroke="#131722" stroke-width="1"/></svg>
<div id="bb" class="abs"></div>
<div class="bt" style="left:449.3px;font-size:9.95px">06:56:26 (UTC+7)</div>
<div class="abs sep" style="left:535.5px;top:574px;height:16px;background:#dcdde0"></div>
<div class="bt" style="left:543px">%</div>
<div class="bt" style="left:561px">log</div>
<div class="bt" style="left:582px">tự đ</div>
<div id="bdark" class="abs"></div>
</body></html>
